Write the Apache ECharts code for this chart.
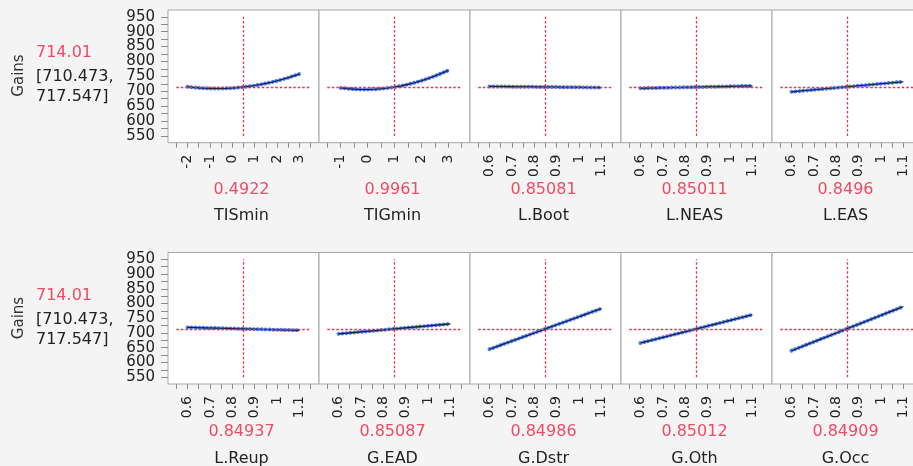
<!DOCTYPE html>
<html>
<head>
<meta charset="utf-8">
<script src="https://cdn.jsdelivr.net/npm/echarts@6/dist/echarts.min.js"></script>
<style>
  html, body { margin: 0; padding: 0; background: #f4f4f4; }
  #main { width: 913px; height: 466px; }
</style>
</head>
<body>
<div id="main"></div>
<script>
// profiler factors and their current settings
const factorNames = ['TISmin', 'TIGmin', 'L.Boot', 'L.NEAS', 'L.EAS', 'L.Reup', 'G.EAD', 'G.Dstr', 'G.Oth', 'G.Occ'];
const currentX = [0.4922, 0.9961, 0.85081, 0.85011, 0.8496, 0.84937, 0.85087, 0.84986, 0.85012, 0.84909];
const currentText = ['0.4922', '0.9961', '0.85081', '0.85011', '0.8496', '0.84937', '0.85087', '0.84986', '0.85012', '0.84909'];
const predicted = 714.01;
const predictedText = '714.01';
const ciText = ['[710.473,', '717.547]'];

// x axis ranges (min, max, tick step, label step)
const xMin = [-2.5, -1.5, 0.55, 0.55, 0.55, 0.55, 0.55, 0.55, 0.55, 0.55];
const xMax = [3.5, 3.5, 1.15, 1.15, 1.15, 1.15, 1.15, 1.15, 1.15, 1.15];
const xStep = [0.5, 0.5, 0.05, 0.05, 0.05, 0.05, 0.05, 0.05, 0.05, 0.05];
const xLabelStep = [1, 1, 0.1, 0.1, 0.1, 0.1, 0.1, 0.1, 0.1, 0.1];
const yMin = 550, yMax = 950, yStep = 25, yLabelStep = 50;

// profile traces
const tisX = [-2, -1.75, -1.5, -1.25, -1, -0.75, -0.5, -0.25, 0, 0.25, 0.5, 0.75, 1, 1.25, 1.5, 1.75, 2, 2.25, 2.5, 2.75, 3];
const tisY = [715.2, 713.0, 711.4, 710.1, 709.3, 709.0, 709.1, 709.7, 710.7, 712.2, 714.1, 716.5, 719.3, 722.5, 726.3, 730.4, 735.0, 740.1, 745.6, 751.6, 758.0];
const tigX = [-1, -0.75, -0.5, -0.25, 0, 0.25, 0.5, 0.75, 1, 1.25, 1.5, 1.75, 2, 2.25, 2.5, 2.75, 3];
const tigY = [711.2, 708.7, 707.0, 706.0, 706.0, 706.7, 708.3, 710.7, 714.0, 718.1, 723.0, 728.8, 735.4, 742.8, 751.0, 760.1, 770.0];
const unitX = [0.6, 0.625, 0.65, 0.675, 0.7, 0.725, 0.75, 0.775, 0.8, 0.825, 0.85, 0.875, 0.9, 0.925, 0.95, 0.975, 1, 1.025, 1.05, 1.075, 1.1];
const lBootY = [716.3, 716.1, 715.9, 715.7, 715.5, 715.3, 715.1, 714.9, 714.7, 714.5, 714.3, 714.1, 713.9, 713.7, 713.5, 713.3, 713.1, 712.9, 712.7, 712.5, 712.3];
const lNeasY = [710.0, 710.4, 710.8, 711.2, 711.6, 712.0, 712.4, 712.8, 713.2, 713.6, 714.0, 714.4, 714.8, 715.2, 715.6, 716.0, 716.4, 716.8, 717.2, 717.6, 718.0];
const lEasY = [698.0, 699.7, 701.4, 703.1, 704.8, 706.5, 708.2, 709.9, 711.6, 713.3, 715.0, 716.7, 718.4, 720.1, 721.8, 723.5, 725.2, 726.9, 728.6, 730.3, 732.0];
const lReupY = [719.0, 718.5, 718.0, 717.5, 717.0, 716.5, 716.0, 715.5, 715.0, 714.5, 714.0, 713.5, 713.0, 712.5, 712.0, 711.5, 711.0, 710.5, 710.0, 709.5, 709.0];
const gEadY = [697.0, 698.7, 700.4, 702.1, 703.8, 705.5, 707.2, 708.9, 710.6, 712.3, 714.0, 715.7, 717.4, 719.1, 720.8, 722.5, 724.2, 725.9, 727.6, 729.3, 731.0];
const gDstrY = [645.0, 651.9, 658.8, 665.7, 672.6, 679.5, 686.4, 693.3, 700.2, 707.1, 714.0, 720.9, 727.8, 734.7, 741.6, 748.5, 755.4, 762.3, 769.2, 776.1, 783.0];
const gOthY = [666.0, 670.8, 675.6, 680.4, 685.2, 690.0, 694.8, 699.6, 704.4, 709.2, 714.0, 718.8, 723.6, 728.4, 733.2, 738.0, 742.8, 747.6, 752.4, 757.2, 762.0];
const gOccY = [640.0, 647.5, 655.0, 662.5, 670.0, 677.5, 685.0, 692.5, 700.0, 707.5, 715.0, 722.5, 730.0, 737.5, 745.0, 752.5, 760.0, 767.5, 775.0, 782.5, 790.0];

const traceX = [tisX, tigX, unitX, unitX, unitX, unitX, unitX, unitX, unitX, unitX];
const traceY = [tisY, tigY, lBootY, lNeasY, lEasY, lReupY, gEadY, gDstrY, gOthY, gOccY];

// layout
const colLeft = [168, 319, 470, 621, 772];
const colW = 151;
const rowTop = [10, 252.5];
const rowH = [132.7, 131.5];
const padX = 8.3, padY = 6.8;
const red = '#ef4b63';
const ink = '#222';
const font = 'DejaVu Sans';
const textFont = '16px "' + font + '"';

let grid = [], xAxis = [], yAxis = [], series = [], graphic = [];

for (let i = 0; i < factorNames.length; i++) {
  const r = Math.floor(i / 5), c = i % 5;
  const fl = colLeft[c], ft = rowTop[r], fh = rowH[r];
  const gi = 2 * i + 1;

  // panel frame
  grid.push({
    left: fl, top: ft, width: colW, height: fh,
    show: true, backgroundColor: '#fff', borderColor: '#a6a6a6', borderWidth: 1,
    outerBoundsMode: 'none'
  });
  xAxis.push({ gridIndex: 2 * i, show: false, min: 0, max: 1 });
  yAxis.push({ gridIndex: 2 * i, show: false, min: 0, max: 1 });

  // plot area inside the frame
  grid.push({
    left: fl + padX, top: ft + padY, width: colW - 2 * padX, height: fh - 2 * padY,
    show: false, outerBoundsMode: 'none'
  });
  xAxis.push({
    gridIndex: gi,
    type: 'value',
    position: 'bottom',
    min: xMin[i], max: xMax[i], interval: xStep[i],
    offset: padY,
    axisLine: { show: false, onZero: false },
    splitLine: { show: false },
    axisTick: { show: true, length: 5, lineStyle: { color: '#8a8a8a' } },
    axisLabel: {
      rotate: 90, margin: 12, color: ink, fontFamily: font, fontSize: 14,
      showMinLabel: true, showMaxLabel: true,
      formatter: function (v) {
        const k = v / xLabelStep[i];
        return Math.abs(k - Math.round(k)) < 1e-6 ? String(+v.toFixed(2)) : '';
      }
    }
  });
  yAxis.push({
    gridIndex: gi,
    type: 'value',
    position: 'left',
    min: yMin, max: yMax, interval: yStep,
    offset: padX,
    show: c === 0,
    axisLine: { show: false, onZero: false },
    splitLine: { show: false },
    axisTick: { show: true, length: 7, lineStyle: { color: '#8a8a8a' } },
    axisLabel: {
      margin: 13, color: ink, fontFamily: font, fontSize: 15,
      formatter: function (v) { return v % yLabelStep === 0 ? String(v) : ''; }
    }
  });

  const pts = traceX[i].map(function (x, j) { return [x, traceY[i][j]]; });

  // red crosshair at the current setting
  series.push({
    type: 'line',
    xAxisIndex: gi, yAxisIndex: gi,
    data: [],
    color: '#f0304c',
    silent: true,
    animation: false,
    z: 1,
    markLine: {
      silent: true,
      symbol: 'none',
      animation: false,
      label: { show: false },
      lineStyle: { color: '#f0304c', type: [2.5, 2], width: 1.3, opacity: 1 },
      emphasis: { disabled: true },
      data: [{ yAxis: predicted }, { xAxis: currentX[i] }]
    }
  });
  // confidence curves (blue dots)
  series.push({
    type: 'line',
    xAxisIndex: gi, yAxisIndex: gi,
    data: pts,
    showSymbol: false,
    silent: true,
    animation: false,
    z: 2,
    lineStyle: { color: '#4a7ef0', width: 4, type: [0.1, 3.8], cap: 'round' }
  });
  // prediction trace
  series.push({
    type: 'line',
    xAxisIndex: gi, yAxisIndex: gi,
    data: pts,
    showSymbol: false,
    silent: true,
    animation: false,
    z: 3,
    lineStyle: { color: '#15183a', width: 1.1 }
  });

  // current value and factor name under each panel
  const cx = fl + colW / 2 - 2;
  graphic.push({
    type: 'text', x: cx, y: ft + 179.5,
    style: { text: currentText[i], fill: red, font: textFont, textAlign: 'center', textVerticalAlign: 'middle' }
  });
  graphic.push({
    type: 'text', x: cx, y: ft + 206,
    style: { text: factorNames[i], fill: ink, font: textFont, textAlign: 'center', textVerticalAlign: 'middle' }
  });
}

// response label and prediction on the left of each row
for (let r = 0; r < 2; r++) {
  const ft = rowTop[r];
  graphic.push({
    type: 'text', x: 19, y: ft + 65.5, rotation: Math.PI / 2,
    style: { text: 'Gains', fill: '#333', font: '15px "' + font + '"', textAlign: 'center', textVerticalAlign: 'middle' }
  });
  graphic.push({
    type: 'text', x: 36, y: ft + 43,
    style: { text: predictedText, fill: red, font: textFont, textAlign: 'left', textVerticalAlign: 'middle' }
  });
  graphic.push({
    type: 'text', x: 36, y: ft + 67,
    style: { text: ciText[0], fill: ink, font: textFont, textAlign: 'left', textVerticalAlign: 'middle' }
  });
  graphic.push({
    type: 'text', x: 36, y: ft + 87,
    style: { text: ciText[1], fill: ink, font: textFont, textAlign: 'left', textVerticalAlign: 'middle' }
  });
}

let myChart = echarts.init(document.getElementById('main'));
let option = {
  backgroundColor: '#f4f4f4',
  animation: false,
  grid: grid,
  xAxis: xAxis,
  yAxis: yAxis,
  series: series,
  graphic: graphic
};
option && myChart.setOption(option);
</script>
</body>
</html>
